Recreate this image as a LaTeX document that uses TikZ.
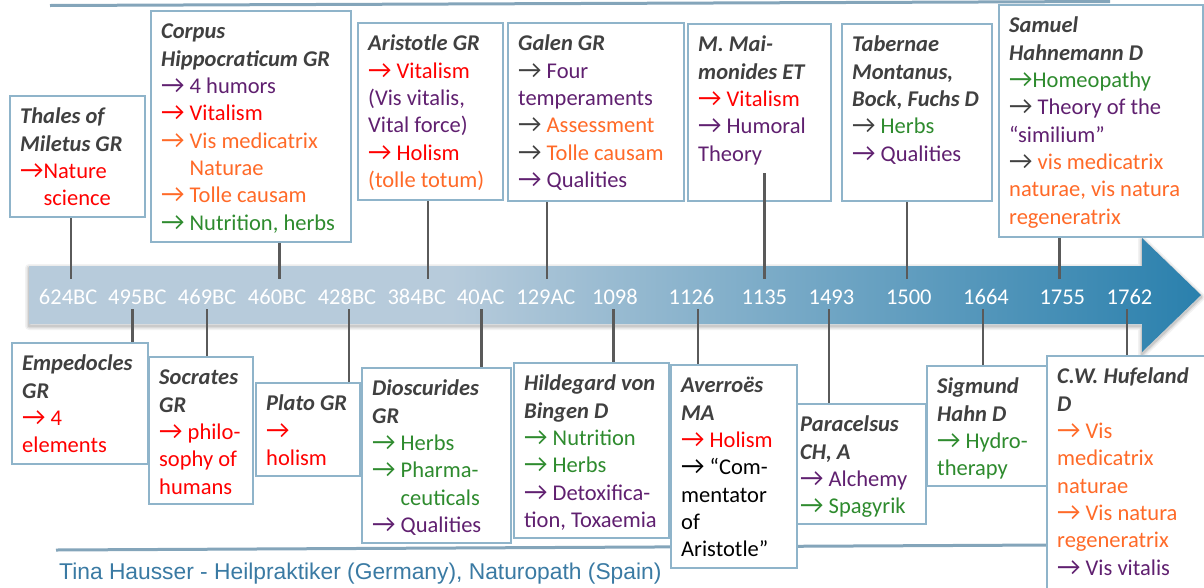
\documentclass[tikz,border=0pt]{standalone}
\usepackage{fontspec}
\setmainfont{Carlito}
\newfontfamily\footfont{Liberation Sans}
\usetikzlibrary{calc}

\definecolor{hdr}{HTML}{404040}
\definecolor{cred}{HTML}{FF0000}
\definecolor{cpur}{HTML}{602070}
\definecolor{corg}{HTML}{FF6A28}
\definecolor{cgrn}{HTML}{2E8B2E}
\definecolor{cgry}{HTML}{404040}
\definecolor{boxline}{HTML}{8FB4CA}
\definecolor{stemc}{HTML}{5A5A5A}
\definecolor{rulec}{HTML}{84A5BA}
\definecolor{barlight}{HTML}{B7CBDB}
\definecolor{bardark}{HTML}{2A80AD}
\definecolor{footc}{HTML}{3A7AA3}

\pgfdeclarehorizontalshading{barshade}{100bp}{color(0bp)=(barlight); color(25bp)=(barlight); color(43bp)=(barlight); color(75bp)=(bardark); color(100bp)=(bardark)}

\newcommand\rarrow{\scalebox{1.15}{→}}
\newcommand\hd[1]{{\color{hdr}\bfseries\itshape #1}}
\newcommand\itm[3]{\textcolor{#1}{\rarrow}\ \textcolor{#2}{#3}}
\newcommand\ind{\hphantom{\rarrow\ }}

% box: name, left, top, right, bottom, text
\newcommand\tbox[6]{%
  \node[box, anchor=north west, minimum width={#4-#2}, minimum height={#5-#3}] (#1) at (#2,#3) {};
  \node[txt] (#1-t) at ({#2+10},{#3+8.6}) {#6};}

\begin{document}
\begin{tikzpicture}[x=1pt,y=-1pt,
  box/.style={draw=boxline, line width=2.4pt, fill=white, inner sep=0pt, outer sep=0pt},
  txt/.style={anchor=north west, inner sep=0pt, align=left, font=\fontsize{22.5}{27.3}\selectfont},
  lbl/.style={anchor=base, inner sep=0pt, text=white, font=\fontsize{22.5}{27}\selectfont},
  stem/.style={draw=stemc, line width=2.3pt},
  rulel/.style={draw=rulec, line width=3pt}]

\useasboundingbox (0,0) rectangle (1204,587);
\clip (0,0) rectangle (1204,587);

% header and footer rules
\coordinate (rt1) at (50,5.5);
\coordinate (rt2) at (1110,1.5);
\draw[rulel] (rt1) -- (rt2);
\coordinate (rb1) at (56,550);
\coordinate (rb2) at (1050,545);
\draw[rulel] (rb1) -- (rb2);

% timeline arrow: soft shadow, then shaded body
\foreach \w/\o in {8/0.05,5/0.07,2.5/0.1}{
  \draw[black, opacity=\o, line width=\w pt, line join=round, yshift=-2pt]
    (29,266) -- (1142,266) -- (1142,238) -- (1201,295) -- (1142,352) -- (1142,324) -- (29,324) -- cycle;}
\shade[shading=barshade]
  (29,266) -- (1142,266) -- (1142,238) -- (1201,295) -- (1142,352) -- (1142,324) -- (29,324) -- cycle;

% year labels
\node[lbl] (y624) at (68.2,304) {624BC};
\node[lbl] (y495) at (137.4,304) {495BC};
\node[lbl] (y469) at (207.2,304) {469BC};
\node[lbl] (y460) at (277.2,304) {460BC};
\node[lbl] (y428) at (347,304) {428BC};
\node[lbl] (y384) at (416.8,304) {384BC};
\node[lbl] (y40) at (480.8,304) {40AC};
\node[lbl] (y129) at (545.9,304) {129AC};
\node[lbl] (y1098) at (614.9,304) {1098};
\node[lbl] (y1126) at (691.5,304) {1126};
\node[lbl] (y1135) at (764.3,304) {1135};
\node[lbl] (y1493) at (831.4,304) {1493};
\node[lbl] (y1500) at (908.8,304) {1500};
\node[lbl] (y1664) at (986,304) {1664};
\node[lbl] (y1755) at (1062.3,304) {1755};
\node[lbl] (y1762) at (1129.5,304) {1762};

% stem ends on the timeline
\coordinate (s624) at (71.2,279);
\coordinate (s460) at (279.6,279);
\coordinate (s384) at (427.8,279);
\coordinate (s129) at (546.9,279);
\coordinate (s1135) at (764.5,279);
\coordinate (s1500) at (907,279);
\coordinate (s1755) at (1059.5,279);
\coordinate (s495) at (132.5,309);
\coordinate (s469) at (206.8,309);
\coordinate (s428) at (349.1,309);
\coordinate (s40) at (481.6,309);
\coordinate (s1098) at (613.5,309);
\coordinate (s1126) at (698.2,309);
\coordinate (s1493) at (829.2,309);
\coordinate (s1664) at (983.3,309);
\coordinate (s1762) at (1127,309);

% upper boxes
\tbox{thales}{10}{96}{145}{217}{\strut\hd{Thales of}\\\hd{Miletus GR}\\\textcolor{cred}{\rarrow Nature}\\\hphantom{\rarrow}\textcolor{cred}{science}}
\tbox{corpus}{151}{11}{351}{242}{\strut\hd{Corpus}\\\hd{Hippocraticum GR}\\\itm{cpur}{cpur}{4 humors}\\\itm{cred}{cred}{Vitalism}\\\itm{corg}{corg}{Vis medicatrix}\\\ind\textcolor{corg}{Naturae}\\\itm{corg}{corg}{Tolle causam}\\\itm{cgrn}{cgrn}{Nutrition, herbs}}
\tbox{arist}{358}{23}{503}{200}{\strut\hd{Aristotle GR}\\\itm{cred}{cred}{Vitalism}\\\textcolor{cpur}{(Vis vitalis,}\\\textcolor{cpur}{Vital force)}\\\itm{cred}{cred}{Holism}\\\textcolor{corg}{(tolle totum)}}
\tbox{galen}{508}{23}{684}{201}{\strut\hd{Galen GR}\\\itm{cgry}{cpur}{Four}\\\textcolor{cpur}{temperaments}\\\itm{cgry}{corg}{Assessment}\\\itm{cgry}{corg}{Tolle causam}\\\itm{cpur}{cpur}{Qualities}}
\tbox{mai}{688}{24}{831}{201}{\strut\hd{M. Mai-}\\\hd{monides ET}\\\itm{cred}{cred}{Vitalism}\\\itm{cpur}{cpur}{Humoral}\\\textcolor{cpur}{Theory}}
\tbox{tab}{842}{24}{992}{201}{\strut\hd{Tabernae}\\\hd{Montanus,}\\\hd{Bock, Fuchs D}\\\itm{cgry}{cgrn}{Herbs}\\\itm{cpur}{cpur}{Qualities}}
\tbox{hahn}{999}{5}{1203}{237}{\strut\hd{Samuel}\\\hd{Hahnemann D}\\\textcolor{cgrn}{\rarrow Homeopathy}\\\itm{cgry}{cpur}{Theory of the}\\\textcolor{cpur}{“similium”}\\\itm{cgry}{corg}{vis medicatrix}\\\textcolor{corg}{naturae, vis natura}\\\textcolor{corg}{regeneratrix}}

% lower boxes
\tbox{emp}{12}{343}{148}{464}{\strut\hd{Empedocles}\\\hd{GR}\\\itm{cred}{cred}{4}\\\textcolor{cred}{elements}}
\tbox{socr}{149}{357}{253}{504}{\strut\hd{Socrates}\\\hd{GR}\\\itm{cred}{cred}{philo-}\\\textcolor{cred}{sophy of}\\\textcolor{cred}{humans}}
\tbox{plato}{256}{383}{360}{476}{\strut\hd{Plato GR}\\\textcolor{cred}{\rarrow}\\\textcolor{cred}{holism}}
\tbox{diosc}{362}{368}{511}{543}{\strut\hd{Dioscurides}\\\hd{GR}\\\itm{cgrn}{cgrn}{Herbs}\\\itm{cgrn}{cgrn}{Pharma-}\\\ind\textcolor{cgrn}{ceuticals}\\\itm{cpur}{cpur}{Qualities}}
\tbox{hild}{514}{363}{669}{538}{\strut\hd{Hildegard von}\\\hd{Bingen D}\\\itm{cgrn}{cgrn}{Nutrition}\\\itm{cgrn}{cgrn}{Herbs}\\\itm{cpur}{cpur}{Detoxifica-}\\\textcolor{cpur}{tion, Toxaemia}}
\tbox{para}{790}{404}{926}{524}{\strut\hd{Paracelsus}\\\hd{CH, A}\\\itm{cpur}{cpur}{Alchemy}\\\itm{cgrn}{cgrn}{Spagyrik}}
\tbox{aver}{671}{365}{797}{568}{\strut\hd{Averroës}\\\hd{MA}\\\itm{cred}{cred}{Holism}\\\itm{black}{black}{“Com-}\\mentator\\of\\Aristotle”}
\tbox{sig}{927}{366}{1047}{486}{\strut\hd{Sigmund}\\\hd{Hahn D}\\\itm{cgrn}{cgrn}{Hydro-}\\\textcolor{cgrn}{therapy}}
\tbox{hufe}{1047}{356}{1215}{600}{\strut\hd{C.W. Hufeland}\\\hd{D}\\\itm{corg}{corg}{Vis}\\\textcolor{corg}{medicatrix}\\\textcolor{corg}{naturae}\\\itm{corg}{corg}{Vis natura}\\\textcolor{corg}{regeneratrix}\\\itm{cpur}{cpur}{Vis vitalis}}

% stems from the boxes to the timeline
\draw[stem, shorten <=1pt] (thales.south -| s624) -- (s624);
\draw[stem, shorten <=1pt] (corpus.south -| s460) -- (s460);
\draw[stem, shorten <=1pt] (arist.south -| s384) -- (s384);
\draw[stem, shorten <=1pt] (galen.south -| s129) -- (s129);
\draw[stem] ($(mai.south -| s1135)+(0,-28)$) -- (s1135);
\draw[stem, shorten <=1pt] (tab.south -| s1500) -- (s1500);
\draw[stem, shorten <=1pt] (hahn.south -| s1755) -- (s1755);
\draw[stem, shorten >=1pt] (s495) -- (emp.north -| s495);
\draw[stem, shorten >=1pt] (s469) -- (socr.north -| s469);
\draw[stem, shorten >=1pt] (s428) -- (plato.north -| s428);
\draw[stem, shorten >=1pt] (s40) -- (diosc.north -| s40);
\draw[stem, shorten >=1pt] (s1098) -- (hild.north -| s1098);
\draw[stem, shorten >=1pt] (s1126) -- (aver.north -| s1126);
\draw[stem, shorten >=1pt] (s1493) -- (para.north -| s1493);
\draw[stem, shorten >=1pt] (s1664) -- (sig.north -| s1664);
\draw[stem, shorten >=1pt] (s1762) -- (hufe.north -| s1762);

% credit line
\node[anchor=base west, inner sep=0pt, text=footc, font=\footfont\fontsize{22.8}{27}\selectfont] (credit) at (59,579) {Tina Hausser - Heilpraktiker (Germany), Naturopath (Spain)};
\end{tikzpicture}
\end{document}
